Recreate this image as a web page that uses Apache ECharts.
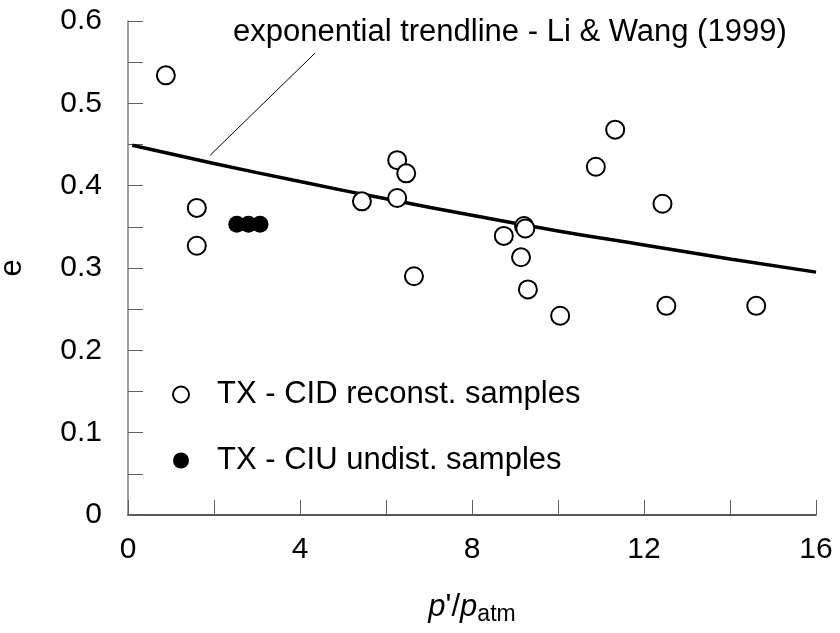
<!DOCTYPE html>
<html>
<head>
<meta charset="utf-8">
<script src="https://cdn.jsdelivr.net/npm/echarts@6/dist/echarts.min.js"></script>
<style>html,body{margin:0;padding:0;background:#fff}#c{width:840px;height:633px}</style>
</head>
<body>
<div id="c"></div>
<script>
// TX - CID reconstituted samples: [p'/patm, e]
const cidX = [0.88, 1.60, 1.60, 5.44, 6.26, 6.26, 6.47, 6.65, 8.74, 9.14, 9.21, 9.24, 9.30, 10.05, 10.88, 11.33, 12.43, 12.52, 14.61];
const cidE = [0.534, 0.373, 0.327, 0.381, 0.431, 0.385, 0.415, 0.290, 0.339, 0.313, 0.351, 0.348, 0.274, 0.242, 0.423, 0.468, 0.378, 0.254, 0.254];
// TX - CIU undisturbed samples
const ciuX = [2.53, 2.80, 3.07];
const ciuE = [0.353, 0.353, 0.353];
// Exponential trendline - Li & Wang (1999)
const trendX = [0.1, 2, 4, 6, 8, 10, 12, 14, 16];
const trendE = [0.449, 0.427, 0.405, 0.384, 0.364, 0.345, 0.328, 0.311, 0.295];
// Annotation pointer (data coords)
const pointerX = [1.91, 4.35];
const pointerE = [0.437, 0.561];
const annotationText = 'exponential trendline - Li & Wang (1999)';
const xTicks = [0, 4, 8, 12, 16];
const yTicks = [0, 0.1, 0.2, 0.3, 0.4, 0.5, 0.6];

const zip = (a, b) => a.map((v, i) => [v, b[i]]);
const FONT = 'Liberation Sans, Arial, sans-serif';

const chart = echarts.init(document.getElementById('c'), null, {renderer: 'canvas'});
chart.setOption({
  backgroundColor: '#fff',
  animation: false,
  grid: {left: 128, right: 24, top: 21, bottom: 118, containLabel: false, outerBoundsMode: 'none'},
  xAxis: {
    type: 'value', min: xTicks[0], max: xTicks[xTicks.length - 1], interval: 4,
    axisLine: {lineStyle: {color: '#202020', width: 1.5}},
    axisTick: {inside: true, length: 15, lineStyle: {color: '#606060', width: 1}},
    minorTick: {show: true, splitNumber: 2, length: 15, lineStyle: {color: '#606060', width: 1}},
    splitLine: {show: false},
    axisLabel: {color: '#000', fontSize: 30, fontFamily: FONT, margin: 20},
    name: '{i|p}\'/{i|p}{s|atm}', nameLocation: 'middle', nameGap: 74,
    nameTextStyle: {
      color: '#000', fontSize: 31, fontFamily: FONT,
      rich: {
        i: {fontStyle: 'italic', fontSize: 31, fontFamily: FONT, color: '#000'},
        s: {fontSize: 23, fontFamily: FONT, color: '#000', padding: [14, 0, 0, 0]}
      }
    }
  },
  yAxis: {
    type: 'value', min: yTicks[0], max: yTicks[yTicks.length - 1], interval: 0.1,
    axisLine: {lineStyle: {color: '#808080', width: 1.5}},
    axisTick: {inside: true, length: 15, lineStyle: {color: '#606060', width: 1}},
    minorTick: {show: true, splitNumber: 2, length: 15, lineStyle: {color: '#606060', width: 1}},
    splitLine: {show: false},
    axisLabel: {color: '#000', fontSize: 30, fontFamily: FONT, margin: 26,
      formatter: v => (v === 0 ? '0' : v.toFixed(1))},
    name: 'e', nameLocation: 'middle', nameGap: 100,
    nameTextStyle: {color: '#000', fontSize: 31, fontFamily: FONT}
  },
  legend: {
    data: ['TX - CID reconst. samples', 'TX - CIU undist. samples'],
    orient: 'vertical', left: 167, top: 374, itemGap: 35,
    itemWidth: 16, itemHeight: 16,
    textStyle: {color: '#000', fontSize: 31, fontFamily: FONT, padding: [0, 0, 0, 23]}
  },
  graphic: [{
    type: 'text', left: 233, top: 17,
    style: {text: annotationText, fill: '#000', font: '31px ' + FONT}
  }],
  series: [
    {
      name: 'trend', type: 'line', data: zip(trendX, trendE), smooth: true,
      showSymbol: false, symbol: 'none', lineStyle: {color: '#000', width: 3.5}, z: 3
    },
    {
      name: 'pointer', type: 'line', data: zip(pointerX, pointerE),
      showSymbol: false, symbol: 'none', lineStyle: {color: '#000', width: 1}, z: 3
    },
    {
      name: 'TX - CID reconst. samples', type: 'scatter', data: zip(cidX, cidE),
      symbol: 'circle', symbolSize: 18,
      itemStyle: {color: '#fff', borderColor: '#000', borderWidth: 2, opacity: 1}, z: 4
    },
    {
      name: 'TX - CIU undist. samples', type: 'scatter', data: zip(ciuX, ciuE),
      symbol: 'circle', symbolSize: 17,
      itemStyle: {color: '#000', borderColor: '#000', borderWidth: 0, opacity: 1}, z: 4
    }
  ]
});
</script>
</body>
</html>
